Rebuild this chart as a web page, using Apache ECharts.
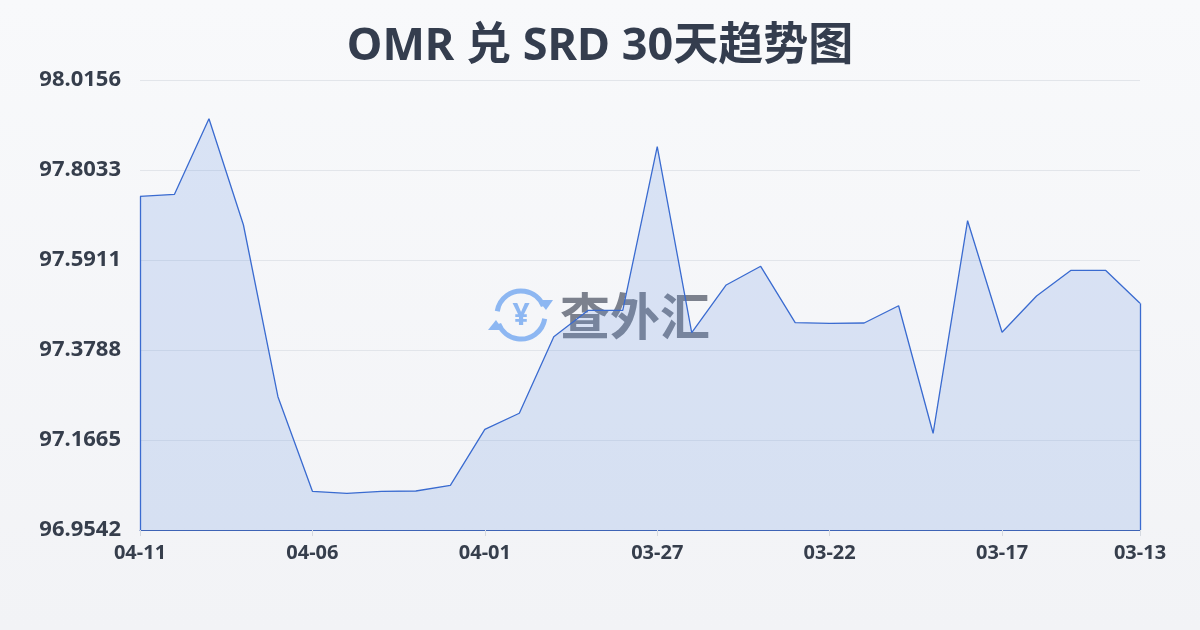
<!DOCTYPE html>
<html>
<head>
<meta charset="utf-8">
<script src="https://cdn.jsdelivr.net/npm/echarts@6/dist/echarts.min.js"></script>
<style>
html,body{margin:0;padding:0;}
#c{width:1200px;height:630px;}
</style>
</head>
<body>
<div id="c"></div>
<script>
var titleText = 'OMR 兑 SRD 30天趋势图';
var categories = ['04-11','04-10','04-09','04-08','04-07','04-06','04-05','04-04','04-03','04-02','04-01','03-31','03-30','03-29','03-28','03-27','03-26','03-25','03-24','03-23','03-22','03-21','03-20','03-19','03-18','03-17','03-16','03-15','03-14','03-13'];
var values = [97.7413,97.7460,97.9243,97.6736,97.2686,97.0455,97.0408,97.0455,97.0462,97.0596,97.1917,97.2295,97.4101,97.4724,97.4724,97.8583,97.4196,97.5321,97.5762,97.4432,97.4417,97.4424,97.4832,97.1823,97.6837,97.4205,97.5061,97.5668,97.5668,97.4889];
var yTickLabels = ['96.9542','97.1665','97.3788','97.5911','97.8033','98.0156'];
var yMin = 96.9542;
var yMax = 98.0156;
var yStep = 0.21228;
var watermarkText = '查外汇';

var lineColor = '#3a6bd0';
var font = 'Noto Sans, Noto Sans CJK SC, sans-serif';
var chart = echarts.init(document.getElementById('c'));
var lastIdx = categories.length - 1;
function showIdx(i){ return i % 5 === 0 || i === lastIdx; }

var option = {
  animation: false,
  backgroundColor: new echarts.graphic.LinearGradient(0,0,0,1,[{offset:0,color:'#f8f9fb'},{offset:1,color:'#f2f3f6'}]),
  title: {
    text: titleText,
    left: 'center',
    top: 20,
    textStyle: {fontFamily: font, fontSize: 45, fontWeight: 'bold', color: '#343d4e'}
  },
  grid: {left: 140, right: 60, top: 80, bottom: 100, containLabel: false},
  xAxis: {
    type: 'category',
    data: categories,
    boundaryGap: false,
    axisLine: {show: true, lineStyle: {color: '#3d63b5', width: 1}},
    axisTick: {show: true, interval: function(i){return showIdx(i);}, length: 6, lineStyle: {color: '#d5d9e0'}},
    axisLabel: {interval: function(i){return showIdx(i);}, fontFamily: font, fontSize: 20, fontWeight: 'bold', color: '#363e4c', margin: 13},
    splitLine: {show: false}
  },
  yAxis: {
    type: 'value',
    min: yMin,
    max: yMax,
    interval: yStep,
    axisLine: {show: false},
    axisTick: {show: false},
    axisLabel: {fontFamily: font, fontSize: 22, fontWeight: 'bold', color: '#363e4c', margin: 19,
      formatter: function(v){ var k = Math.round((v - yMin) / yStep); return yTickLabels[k] !== undefined ? yTickLabels[k] : v.toFixed(4); }},
    splitLine: {show: true, lineStyle: {color: '#e2e5ea', width: 1}}
  },
  graphic: [
    {type: 'arc', z: 1, shape: {cx: 521, cy: 315, r: 24, startAngle: Math.PI*1.05, endAngle: Math.PI*1.88}, style: {stroke: '#8db7f2', lineWidth: 5, fill: null}},
    {type: 'arc', z: 1, shape: {cx: 521, cy: 315, r: 24, startAngle: Math.PI*0.05, endAngle: Math.PI*0.88}, style: {stroke: '#8db7f2', lineWidth: 5, fill: null}},
    {type: 'polygon', z: 1, shape: {points: [[538,300],[553,300],[546,310]]}, style: {fill: '#8db7f2'}},
    {type: 'polygon', z: 1, shape: {points: [[488,330],[503,330],[496,320]]}, style: {fill: '#8db7f2'}},
    {type: 'text', z: 1, style: {text: '¥', x: 521, y: 316, align: 'center', verticalAlign: 'middle', fontFamily: font, fontSize: 30, fontWeight: 'bold', fill: '#8db7f2'}},
    {type: 'text', z: 1, style: {text: watermarkText, x: 560, y: 316, align: 'left', verticalAlign: 'middle', fontFamily: 'Noto Sans CJK SC, sans-serif', fontSize: 50, fontWeight: 'bold', fill: '#7c818d'}}
  ],
  series: [{
    type: 'line',
    data: values,
    symbol: 'none',
    lineStyle: {color: lineColor, width: 1.3},
    areaStyle: {color: 'rgba(98,144,227,0.2)', opacity: 1, origin: 'start'},
    markLine: {
      silent: true,
      symbol: 'none',
      label: {show: false},
      lineStyle: {color: lineColor, width: 1.3, type: 'solid'},
      data: [
        [{coord: [categories[0], yMin]}, {coord: [categories[0], values[0]]}],
        [{coord: [categories[lastIdx], yMin]}, {coord: [categories[lastIdx], values[lastIdx]]}]
      ]
    }
  }]
};
chart.setOption(option);
</script>
</body>
</html>
